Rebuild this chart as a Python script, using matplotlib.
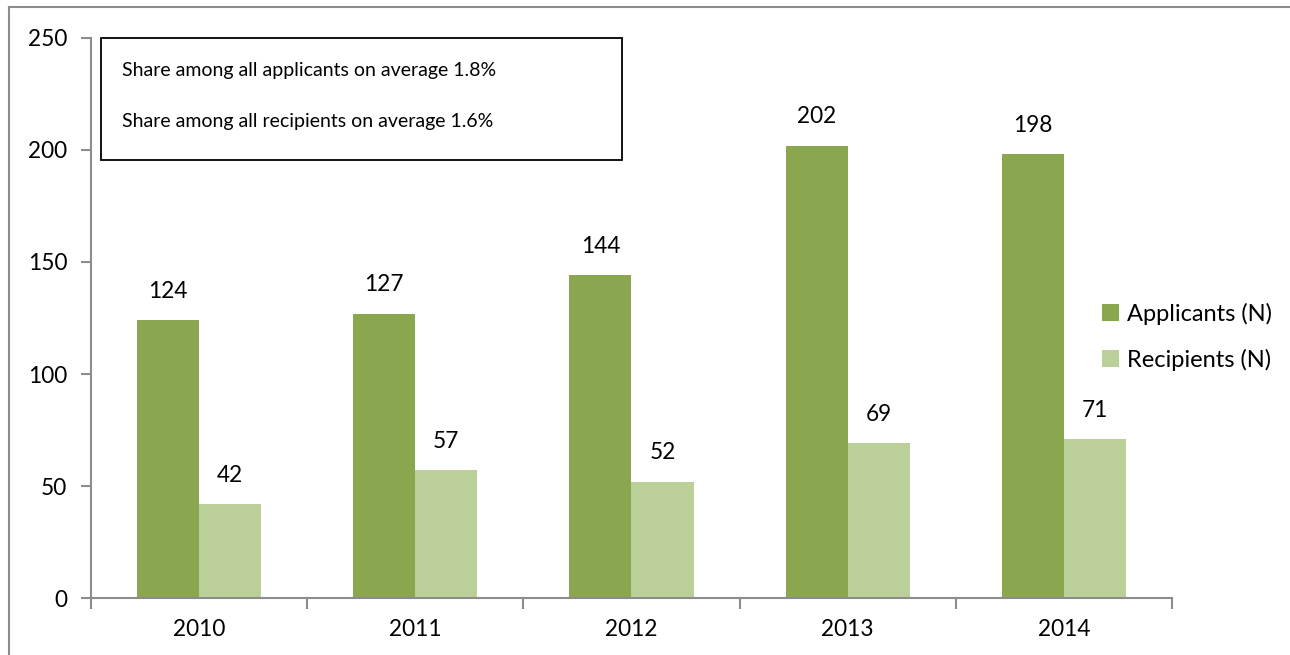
import matplotlib.pyplot as plt
from matplotlib.patches import Rectangle
from matplotlib.lines import Line2D
import numpy as np

plt.switch_backend('Agg')
plt.rcParams['font.family'] = ['Lato', 'DejaVu Sans']

# --- data ---
years = ['2010', '2011', '2012', '2013', '2014']
applicants = [124, 127, 144, 202, 198]
recipients = [42, 57, 52, 69, 71]
box_lines = ['Share among all applicants on average 1.8%',
             'Share among all recipients on average 1.6%']

c_app = '#8aa74f'
c_rec = '#bad098'
grey = '#8c8c8c'

fig = plt.figure(figsize=(12.9, 6.55), dpi=100)
ax = fig.add_axes([0.0705, 0.087, 0.838, 0.855])

x = np.arange(len(years))
w = 0.287
b1 = ax.bar(x - w / 2, applicants, w, color=c_app, label='Applicants (N)')
b2 = ax.bar(x + w / 2, recipients, w, color=c_rec, label='Recipients (N)')

# value labels above each bar
for bars, vals in ((b1, applicants), (b2, recipients)):
    for r, v in zip(bars, vals):
        ax.annotate(str(v), (r.get_x() + r.get_width() / 2, v),
                    xytext=(0, 13), textcoords='offset points',
                    ha='center', va='bottom', fontsize=16.3)

ax.set_xlim(-0.5, len(years) - 0.5)
ax.set_ylim(0, 250)
ax.set_yticks(range(0, 251, 50))
ax.set_xticks(x)
ax.set_xticklabels(years)
ax.set_xticks(np.arange(-0.5, len(years), 1), minor=True)
ax.tick_params(axis='x', which='major', length=0, pad=15, labelsize=16.3)
ax.tick_params(axis='x', which='minor', length=8, width=1.5, color=grey, direction='out')
ax.tick_params(axis='y', length=7, width=1.5, color=grey, pad=10, labelsize=16.3)
for s in ('top', 'right'):
    ax.spines[s].set_visible(False)
for s in ('left', 'bottom'):
    ax.spines[s].set_color(grey)
    ax.spines[s].set_linewidth(1.5)

# legend on the right
ax.legend(loc='center left', bbox_to_anchor=(0.8544, 0.486), bbox_transform=fig.transFigure,
          frameon=False, fontsize=17, handlelength=0.7, handleheight=0.7,
          handletextpad=0.35, labelspacing=1.0, borderpad=0.0, borderaxespad=0.0)

# annotation box in the upper left
fig.add_artist(Rectangle((0.0783, 0.7557), 0.4039, 0.1863, transform=fig.transFigure,
                         fill=False, edgecolor='black', linewidth=1.3))
fig.text(0.0946, 0.893, box_lines[0], fontsize=14, va='center')
fig.text(0.0946, 0.814, box_lines[1], fontsize=14, va='center')

# outer chart frame
fig.add_artist(Line2D([0.007, 1.0], [0.989, 0.989], transform=fig.transFigure,
                      color=grey, linewidth=1.5))
fig.add_artist(Line2D([0.007, 0.007], [0.0, 0.989], transform=fig.transFigure,
                      color=grey, linewidth=1.5))

fig.savefig('out.png', dpi=100)
